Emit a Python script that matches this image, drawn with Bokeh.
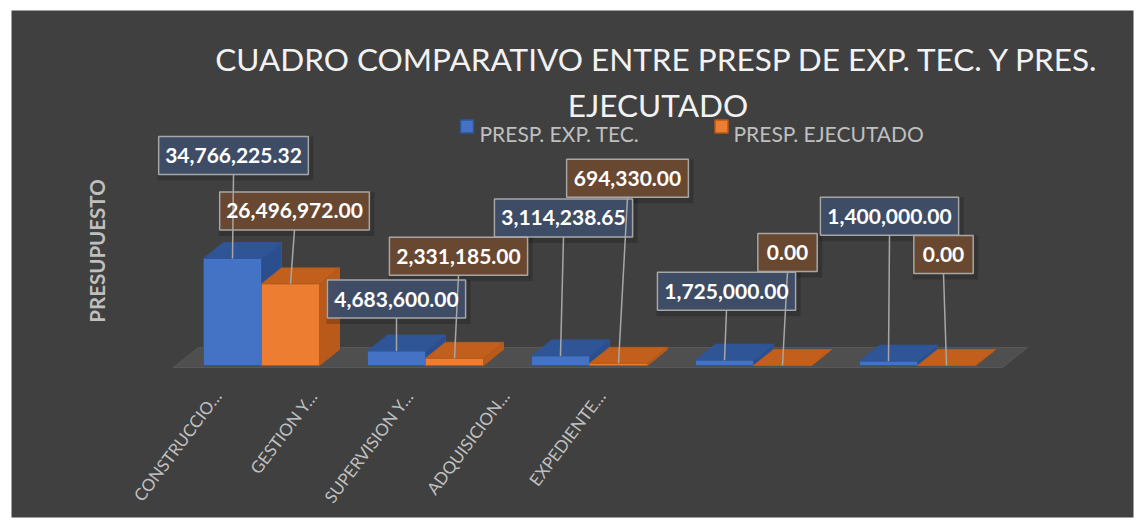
import math
from bokeh.plotting import figure
from bokeh.models import Range1d
from bokeh.core.properties import value
from bokeh.embed import file_html
from bokeh.resources import INLINE

# ---------------- data ----------------
categories = ["CONSTRUCCIO\u2026", "GESTION Y\u2026", "SUPERVISION Y\u2026", "ADQUISICION\u2026", "EXPEDIENTE\u2026"]
series_names = ["PRESP. EXP. TEC.", "PRESP. EJECUTADO"]
presp_exp_tec = [34766225.32, 4683600.00, 3114238.65, 1725000.00, 1400000.00]
presp_ejecutado = [26496972.00, 2331185.00, 694330.00, 0.00, 0.00]
title_lines = ["CUADRO COMPARATIVO ENTRE PRESP DE EXP. TEC. Y PRES.", "EJECUTADO"]
y_title = "PRESUPUESTO"

# label placement (screen px offsets of label box centre from bar top centre)
label_off_exp = [(1, -103), (0, -52), (3, -138), (2, -69), (1, -145)]
label_off_eje = [(4, -73), (4, -102), (9, -185), (5, -113), (-3, -111)]

# ---------------- geometry / styles ----------------
FRAME_L, FRAME_T, FRAME_R, FRAME_B = 11, 10, 1133, 517   # canvas px
W, H = FRAME_R + 2, FRAME_B + 2
CAT0_PX, CAT_STEP_PX = 261, 164
BASE_PX, PX_PER_UNIT = 365, 3.08e-6

def X(px):
    return (px - CAT0_PX) / CAT_STEP_PX

def Y(py):
    return (BASE_PX - py) / PX_PER_UNIT

def WX(px):
    return px / CAT_STEP_PX

def HY(px):
    return px / PX_PER_UNIT

BG = "#404040"
FONT = value("Lato")
BLUE = dict(front="#4472c4", top="#2f5597", side="#2b4f8e", box="#3f4e68", edge="#2f5597")
ORANGE = dict(front="#ed7d31", top="#c35f1c", side="#b9591a", box="#6d4a33", edge="#b35a1c")

BAR_W = WX(58)
DEP_X = WX(20)
DEP_Y = HY(16)

p = figure(width=W, height=H,
           x_range=Range1d(X(FRAME_L), X(FRAME_R)),
           y_range=Range1d(Y(FRAME_B), Y(FRAME_T)),
           output_backend="svg", toolbar_location=None,
           min_border_left=FRAME_L, min_border_right=2, min_border_top=FRAME_T, min_border_bottom=2,
           background_fill_color=BG, border_fill_color="white", outline_line_color=None)
p.axis.visible = False
p.grid.visible = False

n = len(categories)

# floor
fl_l = -0.537
fl_r = (n - 1) + 0.518
f_front = -HY(2)
f_back = HY(18)
f_dx = WX(25)
p.patch([fl_l, fl_l + f_dx, fl_r + f_dx, fl_r], [f_front, f_back, f_back, f_front],
        fill_color="#4f4f4f", line_color="#575757", line_width=1)

def draw_series(vals, offset_sign, col):
    xs_side, ys_side, xs_top, ys_top = [], [], [], []
    left, right, top = [], [], []
    for i, v in enumerate(vals):
        if offset_sign < 0:
            x0, x1 = i - BAR_W, i
        else:
            x0, x1 = i, i + BAR_W
        xs_side.append([x1, x1 + DEP_X, x1 + DEP_X, x1])
        ys_side.append([0, DEP_Y, v + DEP_Y, v])
        xs_top.append([x0, x0 + DEP_X, x1 + DEP_X, x1])
        ys_top.append([v, v + DEP_Y, v + DEP_Y, v])
        left.append(x0); right.append(x1); top.append(v)
    p.patches(xs_side, ys_side, fill_color=col["side"], line_color=col["edge"], line_width=1)
    p.patches(xs_top, ys_top, fill_color=col["top"], line_color=col["edge"], line_width=1)
    p.quad(left=left, right=right, bottom=[0] * len(vals), top=top,
           fill_color=col["front"], line_color=col["edge"], line_width=1)

draw_series(presp_exp_tec, -1, BLUE)
draw_series(presp_ejecutado, +1, ORANGE)

# data labels
def text_w_px(s):
    digits = sum(c.isdigit() for c in s)
    punct = len(s) - digits
    return digits * 11.5 + punct * 4.9 + 20

BOX_H = 38
labels = []
for vals, offs, sign, col in ((presp_exp_tec, label_off_exp, -1, BLUE),
                              (presp_ejecutado, label_off_eje, +1, ORANGE)):
    for i, v in enumerate(vals):
        bx = i + sign * BAR_W / 2
        cx = bx + WX(offs[i][0])
        cy = v - HY(offs[i][1])
        s = "{:,.2f}".format(v)
        labels.append(dict(bx=bx, by=v, cx=cx, cy=cy, s=s, w=text_w_px(s), col=col))

# shadows
p.rect(x=[l["cx"] + WX(2) for l in labels], y=[l["cy"] - HY(3) for l in labels],
       width=[WX(l["w"] + 6) for l in labels], height=HY(BOX_H + 6),
       fill_color="black", fill_alpha=0.18, line_color=None)
for l in labels:
    p.rect(x=l["cx"], y=l["cy"], width=WX(l["w"]), height=HY(BOX_H),
           fill_color=l["col"]["box"], fill_alpha=0.95, line_color="#a6a6a6", line_width=1.5)
p.segment(x0=[l["cx"] for l in labels], y0=[l["cy"] - HY(BOX_H / 2) for l in labels],
          x1=[l["bx"] for l in labels], y1=[l["by"] for l in labels],
          line_color="#a6a6a6", line_width=1.5)
p.text(x=[l["cx"] for l in labels], y=[l["cy"] for l in labels], text=[l["s"] for l in labels],
       text_font=FONT, text_font_style="bold", text_font_size="21px", text_color="white",
       text_align="center", text_baseline="middle")

# title
p.text(x=[X(657.5)] * 2, y=[Y(58), Y(104)], text=title_lines, text_font=FONT,
       text_font_size="31.5px", text_color="#f2f2f2", text_align="center", text_baseline="alphabetic")

# legend
p.rect(x=[X(466.5), X(721)], y=[Y(126)] * 2, width=WX(13), height=HY(13),
       fill_color=[BLUE["front"], ORANGE["front"]], line_color=[BLUE["edge"], ORANGE["edge"]], line_width=1.5)
p.text(x=[X(479), X(733)], y=[Y(132.5)] * 2, text=series_names, text_font=FONT,
       text_font_size="21px", text_color="#bfbfbf", text_align="left", text_baseline="alphabetic")

# y axis title
p.text(x=[X(96)], y=[Y(250.5)], text=[y_title], angle=math.pi / 2, text_font=FONT,
       text_font_style="bold", text_font_size="20.5px", text_color="#bfbfbf",
       text_align="center", text_baseline="middle")

# category labels
p.text(x=[X(217 + 96 * i) for i in range(n)], y=[Y(392)] * n, text=categories,
       angle=math.radians(53), text_font=FONT, text_font_size="17px", text_color="#bfbfbf",
       text_align="right", text_baseline="middle")

open("out.html", "w").write(file_html(p, INLINE))
